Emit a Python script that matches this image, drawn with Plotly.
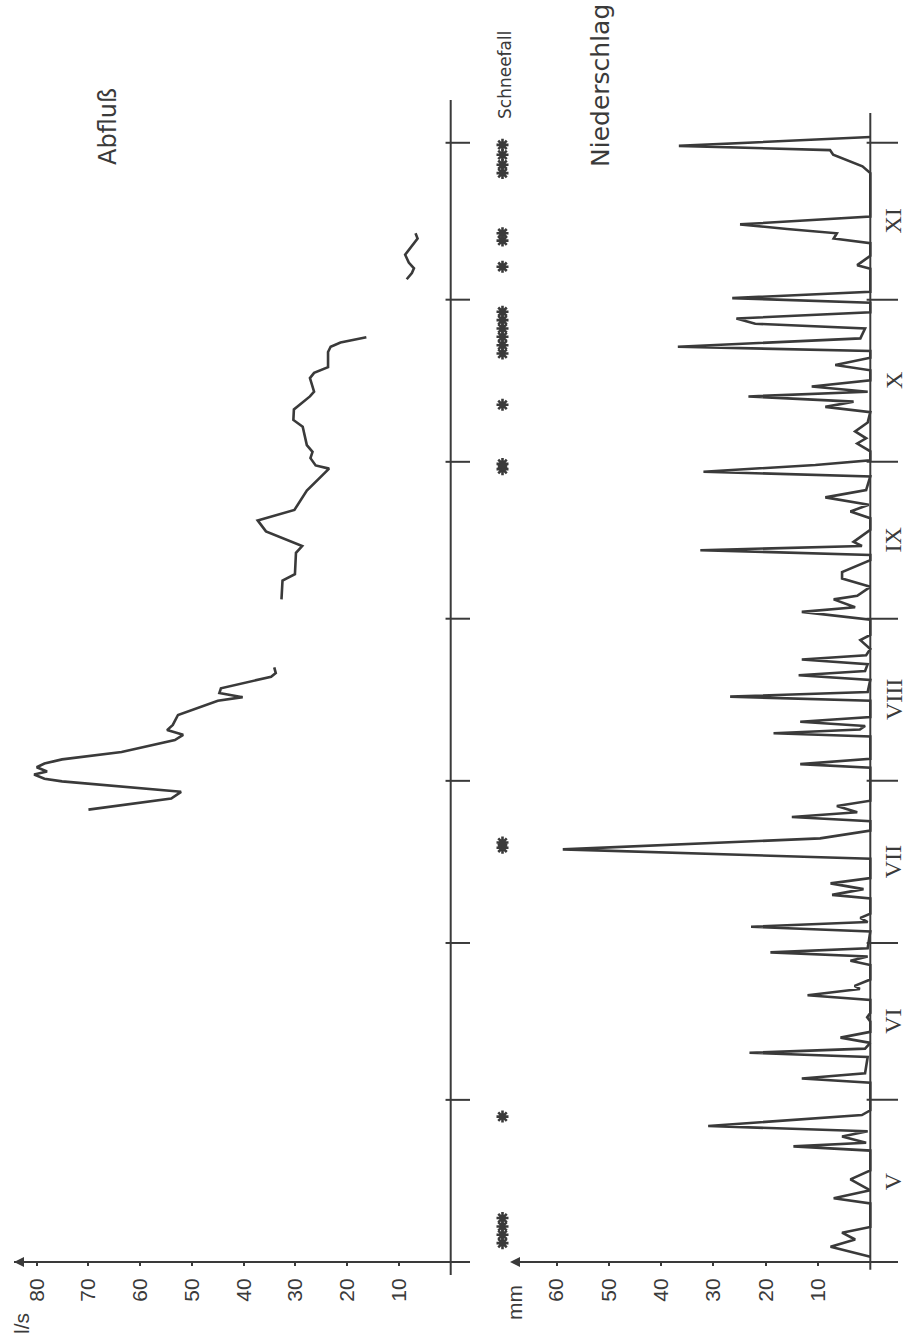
import plotly.graph_objects as go

# ---------------- data ----------------
# time axis: days counted from 1 May
month_names = ["V", "VI", "VII", "VIII", "IX", "X", "XI"]
month_len = [31, 30, 31, 31, 30, 31, 30]

# Niederschlag (mm) – vertices of the drawn curve
rain_day = [1.0, 2.9, 4.3, 5.6, 6.7, 11.2, 12.2, 13.7, 15.8, 17.5, 21.3, 22.1, 22.8, 24.0, 25.0,
            26.0, 28.1, 29.0, 34.3, 35.1, 36.1, 39.2, 40.0, 40.8, 41.9, 42.9, 44.0, 46.0, 46.8,
            47.6, 50.1, 51.0, 52.2, 52.8, 54.0, 56.8, 57.6, 58.4, 59.2, 60.0, 63.2, 64.1, 65.0,
            65.8, 66.6, 69.5, 70.2, 71.3, 72.4, 73.4, 77.1, 78.9, 81.0, 82.5, 84.3, 85.1, 86.0,
            87.2, 88.2, 94.5, 95.2, 96.2, 100.5, 101.1, 101.8, 102.5, 103.3, 104.2, 107.3, 108.1,
            109.0, 111.3, 112.2, 113.0, 114.3, 115.2, 116.0, 117.2, 118.9, 119.9, 122.8, 124.3,
            125.2, 126.7, 127.4, 129.1, 130.7, 131.9, 134.2, 135.2, 136.1, 136.9, 137.7, 139.0,
            140.0, 142.2, 143.5, 144.8, 146.2, 147.6, 150.2, 151.1, 152.4, 153.3, 155.0, 156.5,
            157.5, 158.8, 160.5, 162.5, 163.5, 164.5, 165.5, 166.4, 167.4, 168.6, 170.5, 171.5,
            172.9, 174.2, 175.0, 176.6, 178.5, 179.4, 180.4, 181.6, 183.4, 184.3, 185.5, 189.9,
            190.6, 192.4, 194.8, 195.7, 196.7, 197.5, 198.4, 199.9, 208.2, 209.5, 211.7, 212.6,
            213.4, 215.1]
rain_mm = [0, 7.6, 2.9, 5.4, 0, 0, 7.0, 0, 3.8, 0, 0, 14.7, 0.8, 5.4, 0.5,
           31.0, 1.6, 0, 0, 13.1, 1.0, 0.5, 23.1, 1.0, 0, 5.7, 0, 0, 0.6,
           0, 0, 12.0, 2.0, 3.0, 0, 0, 3.8, 0.5, 19.1, 0.5, 0, 22.8, 0.5,
           1.9, 0, 0, 7.3, 1.3, 7.6, 0, 0, 58.8, 9.6, 0, 0, 15.0, 2.5,
           6.4, 0, 0, 13.4, 0, 0, 18.5, 2.0, 1.0, 13.4, 0, 0, 26.8,
           0.5, 0, 13.7, 1.0, 0.5, 13.1, 0.8, 0, 1.9, 0, 0, 13.1,
           2.9, 7.0, 2.5, 0, 5.4, 5.4, 0, 0, 32.5, 1.6, 3.2, 1.5,
           0, 0, 3.8, 0.3, 8.6, 0.8, 0, 31.9, 10.5, 0, 0, 2.5,
           0.8, 2.9, 0.5, 0, 8.6, 3.2, 23.3, 0.5, 11.2, 0, 0, 6.7,
           0, 0, 36.8, 1.9, 1.0, 22.0, 25.6, 0, 0, 26.4, 0, 0,
           2.5, 0, 0, 7.0, 6.4, 15.9, 24.9, 0, 0, 1.5, 7.1, 7.7,
           36.6, 0]

# Abfluß (l/s) – three measured stretches, separated by gaps (None)
flow_day = [86.5, 88.6, 89.9, 91.9, 92.4, 93.2, 93.8, 94.6, 95.3, 96.1, 97.5, 99.8, 100.8,
            101.7, 102.7, 104.6, 107.3, 108.0, 108.8, 109.7, 111.9, 112.6, 113.7, None,
            126.7, 130.3, 131.5, 135.6, 136.9, 139.7, 141.8, 143.8, 147.5, 148.2, 151.7, 152.3,
            153.7, 154.9, 156.2, 159.7, 161.0, 163.0, 165.5, 166.4, 169.0, 170.0, 171.1, 174.0,
            175.0, 175.8, 176.8, None,
            187.9, 189.1, 190.0, 191.1, 192.6, 194.3, 195.7, 196.7]
flow_ls = [70.0, 54.0, 52.1, 75.1, 78.5, 80.5, 78.0, 80.0, 78.5, 75.1, 63.6, 53.3, 51.7,
           54.8, 53.7, 52.7, 45.0, 40.2, 44.7, 44.4, 34.7, 33.8, 34.1, None,
           32.7, 32.5, 30.1, 29.9, 28.7, 35.7, 37.3, 30.2, 27.8, 27.1, 23.5, 26.1,
           27.1, 26.7, 27.8, 28.6, 30.4, 30.3, 27.2, 26.4, 27.2, 26.4, 23.7, 23.7,
           23.2, 21.3, 16.3, None,
           8.5, 7.5, 7.1, 8.1, 8.8, 7.5, 6.4, 6.8]

# Schneefall – days with snow symbols
snow_day = [3.6, 5.2, 6.8, 8.4, 27.8, 79.2, 80.2, 151.6, 152.6, 163.9,
            173.7, 175.3, 176.9, 178.5, 180.1, 181.7, 190.3, 195.3, 196.7,
            208.2, 209.8, 211.7, 213.6]

flow_ticks = [10, 20, 30, 40, 50, 60, 70, 80]
rain_ticks = [10, 20, 30, 40, 50, 60]

# ---------------- geometry ----------------
W, H = 913, 1337
PX_DAY = 5.23          # pixels per day
Y_DAY0 = 1262          # pixel row of 1 May
FLOW_ZERO, FLOW_PX = 450.7, 5.175
RAIN_ZERO, RAIN_PX = 870.3, 5.23
INK = "#3a3a3a"


def fy(px):
    return 1 - px / H


month_start = [0]
for n in month_len:
    month_start.append(month_start[-1] + n)
month_mid = [(month_start[i] + month_start[i + 1]) / 2 for i in range(len(month_len))]

fig = go.Figure()
fig.add_trace(go.Scatter(x=flow_ls, y=flow_day, xaxis="x", yaxis="y", mode="lines",
                         line=dict(color=INK, width=2.6), connectgaps=False,
                         hoverinfo="skip", showlegend=False))
fig.add_trace(go.Scatter(x=rain_mm, y=rain_day, xaxis="x2", yaxis="y", mode="lines",
                         line=dict(color=INK, width=2.6), hoverinfo="skip", showlegend=False))
fig.add_trace(go.Scatter(x=[0] * len(snow_day), y=snow_day, xaxis="x3", yaxis="y",
                         mode="markers",
                         marker=dict(symbol="asterisk-open", size=10, color=INK,
                                     line=dict(color=INK, width=2.6)),
                         hoverinfo="skip", showlegend=False, cliponaxis=False))

axis_pos = fy(Y_DAY0)
common_x = dict(anchor="free", position=axis_pos, showline=True, linecolor=INK, linewidth=2,
                showgrid=False, zeroline=False, ticks="outside", ticklen=3, tickwidth=2,
                tickcolor=INK, tickangle=-90, ticklabelstandoff=4,
                tickfont=dict(family="Liberation Sans", size=21, color=INK))

flow_left, flow_right = 14, 470
rain_left, rain_right = 510, 898
fig.update_layout(
    width=W, height=H, margin=dict(l=0, r=0, t=0, b=0),
    paper_bgcolor="white", plot_bgcolor="white",
    xaxis=dict(domain=[flow_left / W, flow_right / W],
               range=[(FLOW_ZERO - flow_left) / FLOW_PX, (FLOW_ZERO - flow_right) / FLOW_PX],
               tickvals=flow_ticks, **common_x),
    xaxis2=dict(domain=[rain_left / W, rain_right / W],
                range=[(RAIN_ZERO - rain_left) / RAIN_PX, (RAIN_ZERO - rain_right) / RAIN_PX],
                tickvals=rain_ticks, **common_x),
    xaxis3=dict(domain=[490 / W, 515 / W], range=[-1, 1], anchor="free", position=0,
                visible=False),
    yaxis=dict(domain=[0, 1], range=[(Y_DAY0 - H) / PX_DAY, Y_DAY0 / PX_DAY],
               visible=False, anchor="x"),
)

shapes = []
# time axes (base lines)
shapes.append(dict(type="line", xref="x", yref="y", x0=0, x1=0, y0=-2.5, y1=222.2,
                   line=dict(color=INK, width=2)))
shapes.append(dict(type="line", xref="x2", yref="y", x0=0, x1=0, y0=-1.5, y1=219.7,
                   line=dict(color=INK, width=2)))
# month boundary ticks
for b in month_start[1:]:
    shapes.append(dict(type="line", xref="x", yref="y", x0=1.0, x1=-4.6, y0=b, y1=b,
                       line=dict(color=INK, width=2)))
    shapes.append(dict(type="line", xref="x2", yref="y", x0=0.7, x1=-5.3, y0=b, y1=b,
                       line=dict(color=INK, width=2)))
fig.update_layout(shapes=shapes)

ann = []
# arrows on value axes
ann.append(dict(xref="x", yref="y", axref="x", ayref="y", x=(FLOW_ZERO - flow_left) / FLOW_PX,
                y=0, ax=75, ay=0, text="", showarrow=True, arrowhead=2, arrowsize=1,
                arrowwidth=2, arrowcolor=INK))
ann.append(dict(xref="x2", yref="y", axref="x2", ayref="y", x=(RAIN_ZERO - rain_left) / RAIN_PX,
                y=0, ax=62, ay=0, text="", showarrow=True, arrowhead=2, arrowsize=1,
                arrowwidth=2, arrowcolor=INK))
# month labels
for name, mid in zip(month_names, month_mid):
    ann.append(dict(xref="x2", yref="y", x=-4.4, y=mid, text=name, showarrow=False,
                    xanchor="center", yanchor="middle", textangle=-90,
                    font=dict(family="Liberation Serif", size=24, color=INK)))


def label(px_x, px_y, text, size, family="DejaVu Sans"):
    return dict(xref="paper", yref="paper", x=px_x / W, y=fy(px_y), text=text,
                showarrow=False, xanchor="center", yanchor="middle", textangle=-90,
                font=dict(family=family, size=size, color=INK))


# units
ann.append(label(21, 1324, "l/s", 21, "Liberation Sans"))
ann.append(label(514, 1303, "mm", 21, "Liberation Sans"))
# titles
ann.append(label(108, 127, "Abfluß", 24))
ann.append(label(600, 86, "Niederschlag", 25))
ann.append(label(505, 75, "Schneefall", 17))
fig.update_layout(annotations=ann)

fig.write_html("out.html", config={"displayModeBar": False},
               post_script="document.body.style.margin='0';"
                           "document.body.style.overflow='hidden';")
